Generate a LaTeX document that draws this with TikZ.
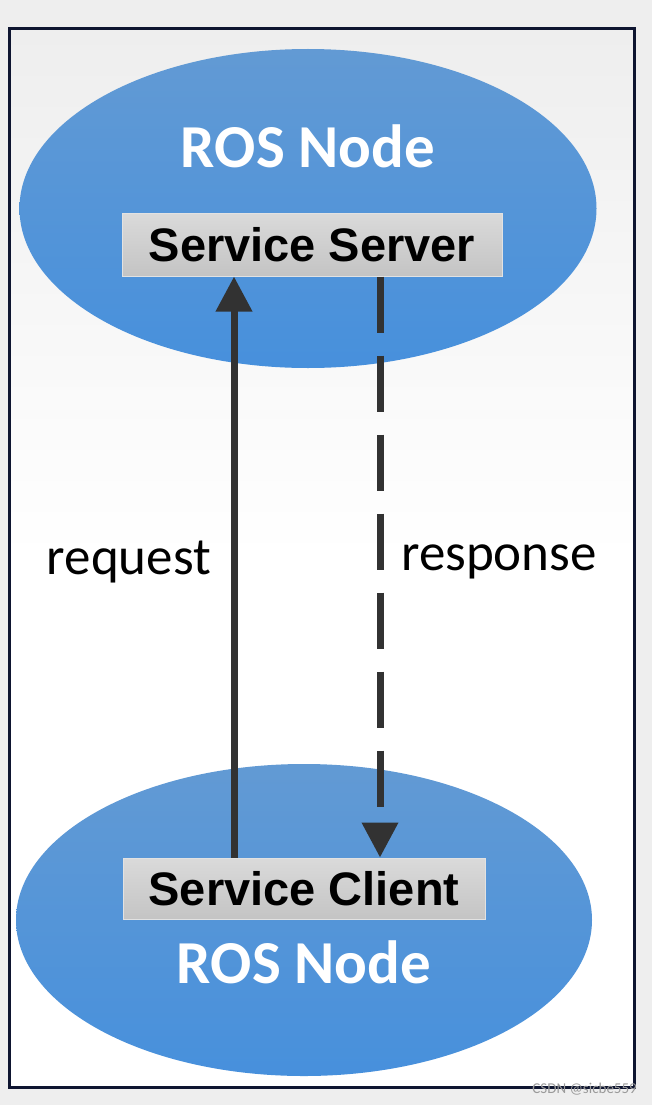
\documentclass[tikz,border=0pt]{standalone}
\usepackage{fontspec}
\setmainfont{Carlito}
\newfontfamily\boxfont{Liberation Sans}
\usetikzlibrary{shapes.geometric,arrows.meta}
\definecolor{bgout}{HTML}{EEEEEE}
\definecolor{framec}{HTML}{0E1530}
\definecolor{bluetop}{HTML}{629AD4}
\definecolor{bluebot}{HTML}{4790DC}
\definecolor{boxtop}{HTML}{DADADA}
\definecolor{boxbot}{HTML}{C4C4C4}
\definecolor{boxedge}{HTML}{E2E2E2}
\definecolor{arrowc}{HTML}{323232}
\definecolor{wmc}{HTML}{9A9A9A}
\begin{document}
\begin{tikzpicture}[x=1pt,y=-1pt,
  rosell/.style={ellipse, inner sep=0pt, top color=bluetop, bottom color=bluebot, draw=none},
  svcbox/.style={rectangle, inner sep=0pt, top color=boxtop, bottom color=boxbot, draw=boxedge, line width=1pt,
     font=\boxfont\bfseries\fontsize{47}{47}\selectfont, text=black},
  rostext/.style={font=\bfseries\fontsize{61}{61}\selectfont, text=white, inner sep=0pt},
  lbl/.style={font=\fontsize{53}{53}\selectfont, text=black, inner sep=0pt},
  conn/.style={draw=arrowc, line width=7pt, -{Triangle[length=35pt,width=35pt]}, arrowc}
]
\useasboundingbox (0,0) rectangle (652,1105);
\fill[bgout] (0,0) rectangle (652,1105);
\shade[top color=bgout, bottom color=white, middle color=white] (9,29) rectangle (634,1087);
\draw[framec, line width=3pt] (9,29) rectangle (634,1087);

\node (topell) [rosell, minimum width=577pt, minimum height=319pt] at (308,208.5) {};
\node (botell) [rosell, minimum width=576pt, minimum height=312pt] at (304,920) {};

\node (toptxt) [rostext] at (308,146) {ROS Node};
\node (bottxt) [rostext] at (304,962) {ROS Node};

\node (srv) [svcbox, minimum width=380pt, minimum height=63pt] at (312,244.5) {Service Server};
\node (cli) [svcbox, minimum width=362pt, minimum height=61pt] at (304,888.5) {Service Client};

\coordinate (reqx) at (234,0);
\coordinate (resx) at (380,0);

\draw[conn] (cli.north -| reqx) -- (srv.south -| reqx);
\draw[conn, dash pattern=on 56pt off 23pt] (srv.south -| resx) -- (cli.north -| resx);

\node (req) [lbl] at (129,562) {request};
\node (res) [lbl] at (499,562) {response};

\node (wm) [font=\fontsize{15}{15}\selectfont, text=wmc, inner sep=0pt, anchor=east] at (637,1089) {CSDN @sicbe559};
\end{tikzpicture}
\end{document}
